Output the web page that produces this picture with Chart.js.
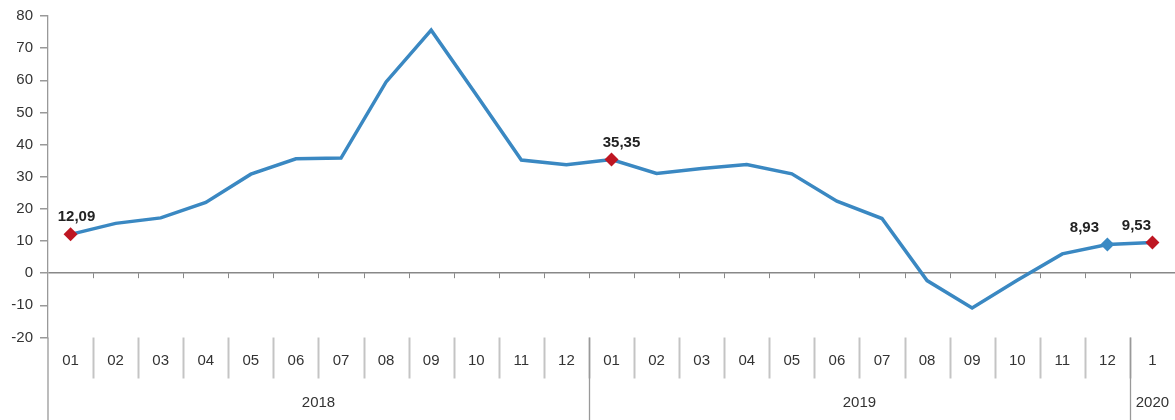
<!DOCTYPE html>
<html>
<head>
<meta charset="utf-8">
<script src="https://cdn.jsdelivr.net/npm/chart.js@4.4.1/dist/chart.umd.min.js"></script>
<style>
  html, body { margin: 0; padding: 0; background: #fff; }
  #wrap { width: 1175px; height: 420px; }
</style>
</head>
<body>
<div id="wrap"><canvas id="chart"></canvas></div>
<script>
const MONTHS = ['01', '02', '03', '04', '05', '06', '07', '08', '09', '10', '11', '12',
                '01', '02', '03', '04', '05', '06', '07', '08', '09', '10', '11', '12',
                '1'];
const YEARS = ['2018', '2019', '2020'];
const YEAR_MONTHS = [12, 12, 1];

const VALUES = [12.09, 15.5, 17.2, 22.0, 30.8, 35.6, 35.8, 59.5, 75.6, 55.5, 35.2, 33.7,
                35.35, 31.0, 32.6, 33.8, 30.9, 22.4, 17.0, -2.3, -10.8, -2.2, 6.0, 8.93,
                9.53];

// points that carry a diamond marker and a value label
const MARKED = [0, 12, 23, 24];
const MARK_COLOR = ['#BE1622', '#BE1622', '#3B8AC4', '#BE1622'];
const LABEL_DX = [6, 10, -23, -16];

const LINE = '#3A88C2';
const AXIS = '#999';
const TEXT = '#333';
const FONT = 'Arial, "Liberation Sans", sans-serif';

const fmt = v => v.toFixed(2).replace('.', ',');

function seg(ctx, x1, y1, x2, y2) {
  ctx.beginPath();
  ctx.moveTo(x1, y1);
  ctx.lineTo(x2, y2);
  ctx.stroke();
}

const axisBand = {
  id: 'axisBand',
  afterDraw(chart) {
    const { ctx, chartArea: a, scales: { x, y } } = chart;
    const half = (x.getPixelForValue(1) - x.getPixelForValue(0)) / 2;
    const zero = y.getPixelForValue(0);
    const H = chart.height;
    ctx.save();

    // small ticks hanging from the zero line
    ctx.strokeStyle = '#888';
    ctx.lineWidth = 1;
    for (let i = 1; i < MONTHS.length; i++) {
      const bx = Math.round(x.getPixelForValue(i) - half) + 0.5;
      seg(ctx, bx, zero, bx, zero + 5);
    }

    // y axis runs down through the label band
    ctx.strokeStyle = AXIS;
    ctx.lineWidth = 1.3;
    seg(ctx, a.left, a.bottom, a.left, H);

    // month separators and labels
    ctx.font = '15px ' + FONT;
    ctx.fillStyle = TEXT;
    ctx.textAlign = 'center';
    ctx.textBaseline = 'middle';
    MONTHS.forEach((m, i) => {
      const cx = x.getPixelForValue(i);
      ctx.fillText(m, cx, a.bottom + 23);
      if (i > 0) {
        const bx = Math.round(cx - half) + 0.5;
        ctx.strokeStyle = '#c4c4c4';
        ctx.lineWidth = 2;
        seg(ctx, bx, a.bottom, bx, a.bottom + 41);
      }
    });

    // year groups
    let start = 0;
    YEARS.forEach((yr, k) => {
      const end = start + YEAR_MONTHS[k] - 1;
      const cx = (x.getPixelForValue(start) + x.getPixelForValue(end)) / 2;
      ctx.fillStyle = TEXT;
      ctx.fillText(yr, cx, a.bottom + 65);
      if (start > 0) {
        const bx = Math.round(x.getPixelForValue(start) - half) + 0.5;
        ctx.strokeStyle = AXIS;
        ctx.lineWidth = 1.3;
        seg(ctx, bx, a.bottom, bx, H);
      }
      start = end + 1;
    });

    // value labels over the marked points
    const meta = chart.getDatasetMeta(0);
    ctx.font = 'bold 15px ' + FONT;
    ctx.fillStyle = '#222';
    MARKED.forEach((idx, k) => {
      const p = meta.data[idx];
      ctx.fillText(fmt(VALUES[idx]), p.x + LABEL_DX[k], p.y - 17);
    });

    ctx.restore();
  }
};

const radius = VALUES.map((_, i) => MARKED.includes(i) ? 7 : 0);
const fill = VALUES.map((_, i) => MARKED.includes(i) ? MARK_COLOR[MARKED.indexOf(i)] : LINE);

new Chart(document.getElementById('chart'), {
  type: 'line',
  data: {
    labels: MONTHS.map((m, i) => i),
    datasets: [{
      data: VALUES,
      borderColor: LINE,
      borderWidth: 3.5,
      tension: 0,
      pointStyle: 'rectRot',
      pointRadius: radius,
      pointBackgroundColor: fill,
      pointBorderWidth: 0,
      clip: false,
    }],
  },
  options: {
    responsive: true,
    maintainAspectRatio: false,
    animation: false,
    layout: { autoPadding: false, padding: { top: 15, right: 0, bottom: 82.5, left: 0 } },
    plugins: { legend: { display: false }, tooltip: { enabled: false } },
    scales: {
      x: { type: 'category', offset: true, display: false },
      y: {
        min: -20, max: 80,
        afterFit: s => { s.width = 48; },
        ticks: { stepSize: 10, color: TEXT, padding: 7, font: { family: FONT, size: 15 } },
        grid: {
          color: c => c.tick.value === 0 ? '#888' : 'rgba(0,0,0,0)',
          lineWidth: 1.5,
          tickColor: AXIS,
          tickLength: 8,
        },
        border: { display: true, color: AXIS, width: 1.3 },
      },
    },
  },
  plugins: [axisBand],
});
</script>
</body>
</html>
